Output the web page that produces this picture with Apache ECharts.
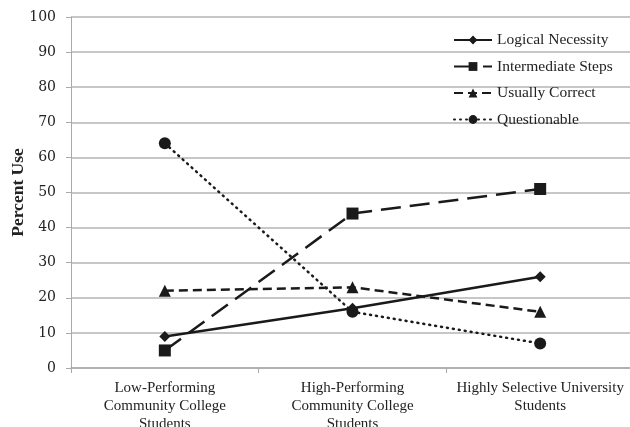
<!DOCTYPE html>
<html><head><meta charset="utf-8">
<script src="https://cdn.jsdelivr.net/npm/echarts@6/dist/echarts.min.js"></script>
<style>html,body{margin:0;padding:0;background:#fff}#c{width:630px;height:427px}</style>
</head><body><div id="c"></div>
<script>
const categories = ["Low-Performing\nCommunity College\nStudents", "High-Performing\nCommunity College\nStudents", "Highly Selective University\nStudents"];
const logicalNecessity = [9, 17, 26];
const intermediateSteps = [5, 44, 51];
const usuallyCorrect = [22, 23, 16];
const questionable = [64, 16, 7];
const yTicks = {min: 0, max: 100, interval: 10};

const font = "'Liberation Serif', 'DejaVu Serif', serif";
const chart = echarts.init(document.getElementById('c'));
function s(name, data, symbol, size, type, cap) {
  return {name, type: 'line', data, symbol, symbolSize: size,
    lineStyle: {color: '#1a1a1a', width: 2.5, type, cap: cap || 'butt'},
    itemStyle: {color: '#1a1a1a'}, animation: false};
}
chart.setOption({
  animation: false,
  textStyle: {fontFamily: font},
  grid: {left: 71, right: -4, top: 17, bottom: 59, containLabel: false, outerBoundsMode: 'none'},
  legend: {
    orient: 'vertical', left: 448, top: 27, itemWidth: 38, itemHeight: 11, itemGap: 10.5,
    textStyle: {fontFamily: font, fontSize: 15.5, color: '#222'},
    data: ['Logical Necessity', 'Intermediate Steps', 'Usually Correct', 'Questionable']
  },
  xAxis: {
    type: 'category', data: categories, boundaryGap: true,
    axisLine: {lineStyle: {color: '#aaa', width: 1.5}},
    axisTick: {show: true, length: 5, lineStyle: {color: '#aaa'}},
    axisLabel: {fontFamily: font, fontSize: 15, color: '#222', lineHeight: 18, margin: 11, interval: 0}
  },
  yAxis: {
    type: 'value', min: yTicks.min, max: yTicks.max, interval: yTicks.interval,
    name: 'Percent Use', nameLocation: 'middle', nameGap: 44, nameRotate: 90, nameMoveOverlap: false,
    nameTextStyle: {fontFamily: font, fontSize: 17.5, fontWeight: 'bold', color: '#222'},
    axisLine: {show: true, lineStyle: {color: '#aaa'}},
    axisTick: {show: true, length: 5, lineStyle: {color: '#aaa'}},
    axisLabel: {fontFamily: "'DejaVu Serif', serif", fontSize: 14, color: '#222', margin: 15},
    splitLine: {lineStyle: {color: '#b4b4b4', width: 1.5}}
  },
  series: [
    s('Logical Necessity', logicalNecessity, 'diamond', 11, 'solid'),
    s('Intermediate Steps', intermediateSteps, 'rect', 12, [20, 9]),
    s('Usually Correct', usuallyCorrect, 'triangle', 12, [9, 5]),
    s('Questionable', questionable, 'circle', 12, [1, 5], 'round')
  ]
});
</script></body></html>
